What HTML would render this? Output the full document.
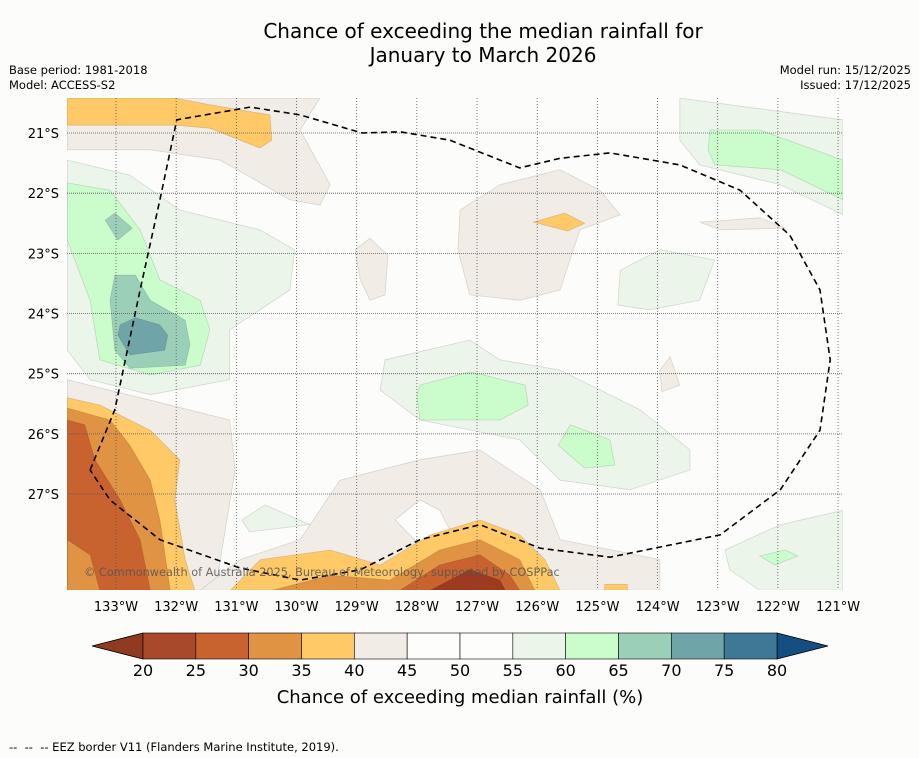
<!DOCTYPE html>
<html><head><meta charset="utf-8"><style>
body{margin:0;background:#fcfdfb;font-family:"DejaVu Sans","Liberation Sans",sans-serif;}
#wrap{position:relative;width:919px;height:758px;overflow:hidden;}
.t{position:absolute;white-space:nowrap;color:#000;}
svg text{font-family:"DejaVu Sans","Liberation Sans",sans-serif;}
</style></head><body>
<div id="wrap">
<div class="t" style="left:0;width:966px;top:19px;text-align:center;font-size:20px;line-height:24px;">Chance of exceeding the median rainfall for<br>January to March 2026</div>
<div class="t" style="left:9px;top:63px;font-size:11.5px;line-height:15px;">Base period: 1981-2018<br>Model: ACCESS-S2</div>
<div class="t" style="right:8px;top:63px;font-size:11.5px;line-height:15px;text-align:right;">Model run: 15/12/2025<br>Issued: 17/12/2025</div>
<div class="t" style="left:9px;top:740px;font-size:11.5px;">--&nbsp; --&nbsp; -- EEZ border V11 (Flanders Marine Institute, 2019).</div>
<svg id="svg" width="919" height="758" style="position:absolute;left:0;top:0"></svg>
</div>
<script>
const lonTicks=[-133,-132,-131,-130,-129,-128,-127,-126,-125,-124,-123,-122,-121];
const latTicks=[21,22,23,24,25,26,27];
const cbLevels=[20,25,30,35,40,45,50,55,60,65,70,75,80];
const cbColors=['#a8492a','#c8632f','#e09342','#fec966','#f2ece6','#fdfefc','#fdfefc','#ebf5ea','#cbfccb','#9ccfb8','#6fa5a8','#3e7896'];
const levelColor={20:'#9e3a1f',25:'#c8632f',30:'#e09342',35:'#fec966',40:'#f2ece6',45:'#fdfefc',55:'#ebf5ea',60:'#cbfccb',65:'#9ccfb8',70:'#6fa5a8'};
const regions=[
[40,[[-133.81,20.42],[-129.61,20.42],[-129.94,20.95],[-129.44,21.86],[-129.61,22.2],[-130.11,22.11],[-131.27,21.45],[-132.43,21.28],[-133.81,21.28]]],
[35,[[-133.81,20.42],[-132.02,20.42],[-131.44,20.53],[-130.44,20.7],[-130.41,21.12],[-130.61,21.25],[-131.44,20.92],[-132.02,20.87],[-132.77,20.87],[-133.81,20.87]]],
[40,[[-127.28,22.28],[-126.62,21.86],[-125.62,21.61],[-124.96,21.95],[-124.62,22.36],[-125.29,22.61],[-125.62,23.61],[-126.29,23.78],[-127.12,23.69],[-127.32,22.94]]],
[35,[[-126.07,22.48],[-125.54,22.33],[-125.21,22.5],[-125.49,22.63]]],
[40,[[-129.03,22.94],[-128.78,22.75],[-128.48,23.03],[-128.53,23.69],[-128.78,23.78],[-128.94,23.44]]],
[40,[[-123.3,22.48],[-122.3,22.41],[-121.88,22.58],[-122.96,22.61]]],
[40,[[-123.96,24.94],[-123.79,24.72],[-123.63,25.19],[-123.93,25.3]]],
[55,[[-123.63,20.42],[-120.92,20.78],[-120.92,22.36],[-121.96,21.86],[-123.3,21.53],[-123.63,21.12]]],
[60,[[-123.13,20.95],[-122.3,20.95],[-120.92,21.45],[-120.92,22.11],[-121.96,21.61],[-123.05,21.53],[-123.16,21.28]]],
[55,[[-124.62,23.28],[-123.96,22.94],[-123.05,23.11],[-123.3,23.78],[-124.13,23.94],[-124.66,23.86]]],
[55,[[-133.81,21.45],[-132.77,21.7],[-131.94,22.28],[-130.61,22.61],[-130.03,22.94],[-130.11,23.61],[-131.11,24.27],[-131.11,25.1],[-132.43,25.35],[-133.43,25.1],[-133.81,24.61]]],
[60,[[-133.81,21.83],[-133.1,21.95],[-132.6,22.61],[-132.27,23.44],[-131.6,23.78],[-131.44,24.27],[-131.6,24.86],[-132.43,25.02],[-133.27,24.77],[-133.43,23.78],[-133.81,22.78]]],
[65,[[-133.02,23.36],[-132.68,23.36],[-132.43,23.78],[-131.85,24.11],[-131.77,24.52],[-131.85,24.86],[-132.77,24.91],[-133.02,24.61],[-133.1,23.78]]],
[65,[[-133.18,22.45],[-133.02,22.33],[-132.73,22.58],[-132.97,22.78]]],
[70,[[-132.93,24.19],[-132.68,24.07],[-132.27,24.19],[-132.14,24.36],[-132.19,24.61],[-132.77,24.69],[-132.97,24.36]]],
[55,[[-128.53,24.77],[-127.12,24.44],[-126.62,24.77],[-125.62,24.94],[-124.29,25.6],[-123.46,26.27],[-123.46,26.6],[-124.46,26.93],[-125.62,26.77],[-126.29,26.1],[-127.95,25.77],[-128.61,25.27]]],
[60,[[-127.95,25.19],[-127.12,24.97],[-126.2,25.19],[-126.15,25.52],[-126.62,25.77],[-127.95,25.77],[-128.0,25.35]]],
[60,[[-125.45,25.85],[-124.79,26.1],[-124.71,26.52],[-125.21,26.57],[-125.65,26.19]]],
[40,[[-133.81,25.1],[-132.43,25.44],[-131.11,25.77],[-131.02,26.6],[-131.35,28.6],[-133.81,28.6]]],
[40,[[-131.6,28.6],[-130.94,28.09],[-129.94,27.76],[-129.28,26.77],[-127.95,26.43],[-126.95,26.27],[-125.95,26.93],[-125.62,27.76],[-123.96,28.09],[-123.96,28.6]]],
[45,[[-128.36,27.43],[-127.95,27.1],[-127.62,27.27],[-127.45,27.6],[-127.95,27.85]]],
[55,[[-130.91,27.43],[-130.52,27.18],[-129.78,27.51],[-130.78,27.63]]],
[55,[[-122.88,27.93],[-121.96,27.51],[-120.92,27.27],[-120.92,28.6],[-122.3,28.6],[-122.8,28.26]]],
[60,[[-122.3,28.03],[-121.88,27.93],[-121.67,28.03],[-122.05,28.18]]],
[35,[[-133.81,25.4],[-133.27,25.52],[-132.43,25.94],[-131.94,26.43],[-132.02,27.1],[-131.85,28.09],[-131.69,28.6],[-133.81,28.6]]],
[30,[[-133.81,25.57],[-133.1,25.77],[-132.77,26.19],[-132.43,26.77],[-132.27,27.43],[-132.1,28.6],[-133.81,28.6]]],
[25,[[-133.81,25.77],[-133.52,25.85],[-133.35,26.43],[-132.93,27.1],[-132.6,27.76],[-132.43,28.6],[-133.81,28.6]]],
[30,[[-133.81,27.76],[-133.43,28.01],[-133.27,28.6],[-133.81,28.6]]],
[35,[[-131.1,28.6],[-130.6,28.09],[-129.44,27.93],[-128.61,28.18],[-127.78,27.68],[-126.95,27.43],[-126.29,27.68],[-125.87,28.09],[-125.62,28.6]]],
[30,[[-130.4,28.6],[-129.44,28.35],[-128.45,28.43],[-127.62,27.93],[-126.95,27.76],[-126.29,28.09],[-126.04,28.6]]],
[25,[[-128.28,28.6],[-127.62,28.18],[-126.95,28.01],[-126.45,28.35],[-126.29,28.6]]],
[20,[[-127.78,28.6],[-127.12,28.26],[-126.62,28.43],[-126.53,28.6]]],
[35,[[-124.88,28.5],[-124.5,28.5],[-124.5,28.6],[-124.88,28.6]]]
];
const eezLon=[-133.43,-133.02,-132.6,-132.27,-131.99,-130.77,-129.94,-128.91,-128.28,-127.45,-126.29,-125.62,-124.79,-123.63,-122.63,-121.8,-121.3,-121.13,-121.3,-121.96,-122.96,-124.79,-125.95,-126.95,-127.95,-128.94,-129.94,-130.94,-132.27,-133.1,-133.43];
const eezLat=[26.6,25.6,23.61,22.11,20.78,20.57,20.7,21.0,20.98,21.12,21.58,21.42,21.33,21.53,21.95,22.7,23.61,24.77,25.94,26.93,27.68,28.05,27.9,27.51,27.76,28.26,28.43,28.23,27.76,27.1,26.6];

const X0=67,X1=843,Y0=98,Y1=590;
const x=lon=>116+(lon+133)*60.17;
const y=lat=>133+(lat-21)*60.17;
const NS='http://www.w3.org/2000/svg';
const svg=document.getElementById('svg');
function mk(tag,attrs,parent){const e=document.createElementNS(NS,tag);for(const k in attrs)e.setAttribute(k,attrs[k]);(parent||svg).appendChild(e);return e;}
const defs=mk('defs',{});
const cp=mk('clipPath',{id:'clip'},defs);mk('rect',{x:X0,y:Y0,width:X1-X0,height:Y1-Y0},cp);
const map=mk('g',{'clip-path':'url(#clip)'});


regions.forEach((r,i)=>{
 const p=mk('polygon',{points:r[1].map(q=>x(q[0]).toFixed(1)+','+y(q[1]).toFixed(1)).join(' '),fill:levelColor[r[0]],stroke:'rgba(0,0,0,0.13)','stroke-width':'0.8'},map);
 
 
});
lonTicks.forEach(l=>{
 const g=mk('line',{x1:x(l),x2:x(l),y1:Y0,y2:Y1,stroke:'#555','stroke-width':'0.8','stroke-dasharray':'1,2'},map);
 
 
 const t=mk('text',{x:x(l),y:611,'text-anchor':'middle','font-size':'13'});t.textContent=Math.abs(l)+'°W';
 
 
});
latTicks.forEach(l=>{
 const g=mk('line',{x1:X0,x2:X1,y1:y(l),y2:y(l),stroke:'#555','stroke-width':'0.8','stroke-dasharray':'1,1'},map);
 
 
 const t=mk('text',{x:59,y:y(l)+5,'text-anchor':'end','font-size':'13'});t.textContent=l+'°S';
 
 
});
const eez=mk('polyline',{points:eezLon.map((l,i)=>x(l).toFixed(1)+','+y(eezLat[i]).toFixed(1)).join(' '),fill:'none',stroke:'#000','stroke-width':'1.6','stroke-dasharray':'6,4'},map);


const cr=mk('text',{x:84,y:576,'font-size':'11.3',fill:'#555','fill-opacity':'0.85'});cr.textContent='© Commonwealth of Australia 2025, Bureau of Meteorology, supported by COSPPac';


const cbX=l=>143+(l-20)*(777-143)/60;
const cb=mk('g',{});


const lo=mk('polygon',{points:`${cbX(20)},633 92,646 ${cbX(20)},659`,fill:'#8f3a21',stroke:'#000','stroke-width':'0.8'},cb);


const hi=mk('polygon',{points:`${cbX(80)},633 828,646 ${cbX(80)},659`,fill:'#154f82',stroke:'#000','stroke-width':'0.8'},cb);


cbColors.forEach((c,i)=>{
 const r=mk('rect',{x:cbX(cbLevels[i]),y:633,width:cbX(cbLevels[i+1])-cbX(cbLevels[i]),height:26,fill:c,stroke:'#000','stroke-width':'0.6'},cb);
 
 
});
cbLevels.forEach(l=>{
 const t=mk('text',{x:cbX(l),y:676,'text-anchor':'middle','font-size':'16'},cb);t.textContent=l;
 
 
});
const ct=mk('text',{x:460,y:703,'text-anchor':'middle','font-size':'18'},cb);ct.textContent='Chance of exceeding median rainfall (%)';


</script>
</body></html>
